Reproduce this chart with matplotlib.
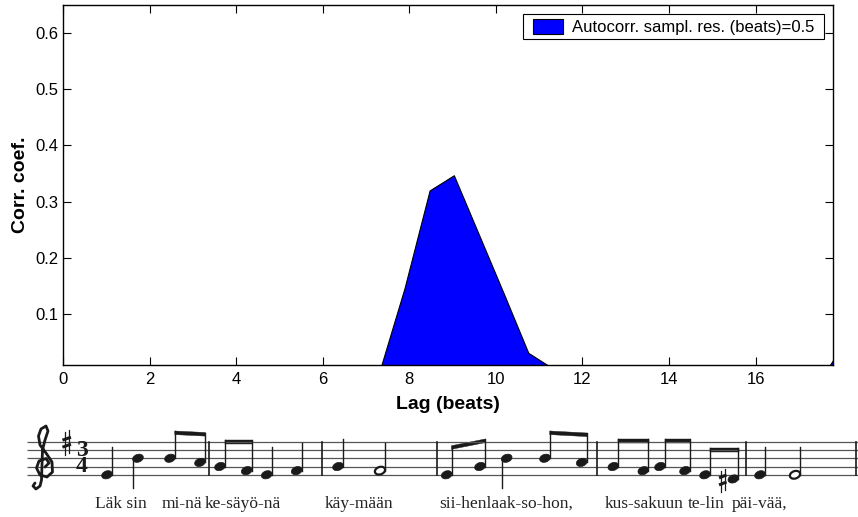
import matplotlib
matplotlib.use('Agg')
import matplotlib.pyplot as plt
from matplotlib.patches import Ellipse, Polygon, Rectangle
from matplotlib import font_manager, ft2font

plt.rcParams['font.family'] = ['Liberation Sans', 'DejaVu Sans']

# ---------------- chart data ----------------
lag = [0.0, 7.32, 7.89, 8.47, 9.03, 9.60, 10.18, 10.75, 11.32, 17.22, 17.79]
corr = [0.0, 0.0, 0.146, 0.320, 0.347, 0.243, 0.137, 0.031, 0.003, -0.05, 0.018]
legend_label = 'Autocorr. sampl. res. (beats)=0.5'
xticks = [0, 2, 4, 6, 8, 10, 12, 14, 16]
yticks = [0.1, 0.2, 0.3, 0.4, 0.5, 0.6]
x_label = 'Lag (beats)'
y_label = 'Corr. coef.'

# ---------------- melody data (staff step 0 = bottom line E4) ----------------
note_x = [107, 138, 170, 200, 220, 246.7, 266.7, 296.7, 338, 380,
          446.7, 480, 506.7, 545, 581.7, 613.3, 643.3, 660, 685, 705, 733.3, 760, 795]
note_step = [0, 4, 4, 3, 2, 1, 0, 1, 2, 1,
             0, 2, 4, 4, 3, 2, 1, 2, 1, 0, -1, 0, 0]
note_dur = ['q', 'q', 'e', 'e', 'e', 'e', 'q', 'q', 'q', 'h',
            'e', 'e', 'q', 'e', 'e', 'e', 'e', 'e', 'e', 'e', 'e', 'q', 'h']
beam_pairs = [(2, 3), (4, 5), (10, 11), (13, 14), (15, 16), (17, 18), (19, 20)]
beam_y = [(431, 432.5), (440, 440), (445.7, 439), (431, 433), (439, 439), (439, 439), (448.3, 448.3)]
sharp_notes = [20]
barlines_x = [209, 321.7, 436.7, 597.3, 745.7, 856]
time_signature = '3\n4'
lyric_words = ['Läk sin', 'mi-nä', 'ke-säyö-nä', 'käy-mään',
               'sii-henlaak-so-hon,', 'kus-sakuun', 'te-lin', 'päi-vää,']
lyric_x = [95, 161.7, 205, 325, 439, 605, 687.5, 731.7]

W, H = 858, 517
fig = plt.figure(figsize=(W / 100, H / 100), dpi=100)

# ---------------- main chart ----------------
L, R, T, B = 63, 833, 5, 365
ax = fig.add_axes([L / W, (H - B) / H, (R - L) / W, (B - T) / H])
ax.fill_between(lag, corr, 0, facecolor='#0000ff', edgecolor='black',
                linewidth=0.8, label=legend_label, zorder=2)
ax.set_xlim(0, 17.79)
ax.set_ylim(0.0093, 0.65)
ax.set_xticks(xticks)
ax.set_xticklabels([str(t) for t in xticks])
ax.set_yticks(yticks)
ax.set_yticklabels([str(t) for t in yticks])
ax.tick_params(direction='in', top=True, right=True, length=5.8, width=0.8,
               labelsize=12)
ax.tick_params(axis='x', pad=5)
ax.tick_params(axis='y', pad=3)
for s in ax.spines.values():
    s.set_linewidth(1.0)
ax.set_xlabel(x_label, fontsize=14, fontweight='bold', labelpad=6.5)
ax.set_ylabel(y_label, fontsize=14, fontweight='bold', labelpad=5)

# legend with MATLAB-like box
def axfx(px):
    return (px - L) / (R - L)
def axfy(py):
    return (B - py) / (B - T)
ax.add_patch(Rectangle((axfx(522.7), axfy(39)), axfx(824.3) - axfx(522.7),
                       axfy(14.3) - axfy(39), transform=ax.transAxes,
                       facecolor='white', edgecolor='black', linewidth=0.8,
                       zorder=4.5, clip_on=False))
leg = ax.legend(loc='center left', bbox_to_anchor=(axfx(532.7), axfy(27)),
                frameon=False, fontsize=12, borderpad=0, borderaxespad=0,
                handlelength=1.8, handleheight=0.96, handletextpad=0.54)
leg.set_zorder(5)

# ---------------- music notation ----------------
MT = 413
mx = fig.add_axes([0, 0, 1, (H - MT) / H])
mx.set_xlim(0, W)
mx.set_ylim(H, MT)
mx.axis('off')

ink = '#1a1a1a'
staff_y0 = 474.8
gap = 8.28
staff_lines = [staff_y0 - i * gap for i in range(5)]
for y in staff_lines:
    mx.plot([26.7, W], [y, y], color='#555555', lw=0.9, solid_capstyle='butt')
for bx in barlines_x:
    mx.plot([bx, bx], [staff_lines[-1], staff_lines[0]], color=ink, lw=1.2)

def step_y(s):
    return staff_y0 - s * gap / 2

beamed = {}
for (a, b), (ya, yb) in zip(beam_pairs, beam_y):
    beamed[a] = ya
    beamed[b] = yb

for i, (x, s, d) in enumerate(zip(note_x, note_step, note_dur)):
    y = step_y(s)
    if d == 'h':
        mx.add_patch(Ellipse((x, y), 10.5, 7.4, angle=-20, facecolor='white',
                             edgecolor=ink, lw=1.6, zorder=3))
    else:
        mx.add_patch(Ellipse((x, y), 11.0, 7.8, angle=-20, facecolor=ink,
                             edgecolor=ink, lw=0.5, zorder=3))
    if i in beamed:
        sx = x + 4.8
        mx.plot([sx, sx], [y, beamed[i]], color=ink, lw=1.0)
    elif s >= 4:
        sx = x - 4.8
        mx.plot([sx, sx], [y, y + 29.5], color=ink, lw=1.0)
    else:
        sx = x + 4.8
        mx.plot([sx, sx], [y, y - 28], color=ink, lw=1.0)

for (a, b), (ya, yb) in zip(beam_pairs, beam_y):
    xa = note_x[a] + 4.8
    xb = note_x[b] + 4.8 + 0.5
    mx.add_patch(Polygon([[xa, ya], [xb, yb], [xb, yb + 3.6], [xa, ya + 3.6]],
                         closed=True, facecolor=ink, edgecolor=ink, lw=0.3))

def draw_sharp(cx, cy, h=24, w=8.5):
    mx.plot([cx - 1.8, cx - 1.8], [cy - h / 2 + 2, cy + h / 2 + 1], color=ink, lw=0.9)
    mx.plot([cx + 1.8, cx + 1.8], [cy - h / 2, cy + h / 2 - 1], color=ink, lw=0.9)
    for dy in (-3.5, 3.5):
        mx.plot([cx - w / 2, cx + w / 2], [cy + dy + 1.5, cy + dy - 1.5],
                color=ink, lw=2.2, solid_capstyle='butt')

for i in sharp_notes:
    draw_sharp(note_x[i] - 10.5, step_y(note_step[i]) + 1, h=22, w=7.5)
# key signature: F sharp on top line
draw_sharp(66.7, staff_lines[4] + 0.5, h=24, w=8.5)

# time signature
mx.text(81.7, step_y(4) + 0.5, time_signature, fontsize=17, fontweight='bold',
        family='Liberation Serif', ha='center', va='center', color=ink,
        linespacing=0.72, multialignment='center')

# treble clef
has_clef = False
try:
    f = ft2font.FT2Font(font_manager.findfont('DejaVu Sans'))
    has_clef = f.get_char_index(0x1D11E) != 0
except Exception:
    has_clef = False
if has_clef:
    mx.text(43, step_y(2), '\U0001D11E', fontsize=40, family='DejaVu Sans',
            ha='center', va='center', color=ink)
else:
    gx = [45, 49, 46, 39, 36.5, 40, 47, 52.5, 52, 46, 40, 38.5, 41, 46, 48, 45, 42.5, 42, 41.5, 40, 36, 33, 35]
    gy = [467, 463, 458.5, 461, 468, 475, 477, 472, 462, 453, 445, 436, 429, 426, 431, 440, 450, 465, 480, 486, 489, 486, 483]
    mx.plot(gx, gy, color=ink, lw=2.0, solid_capstyle='round', solid_joinstyle='round')

for wtxt, wx in zip(lyric_words, lyric_x):
    mx.text(wx, 508, wtxt, fontsize=12.5, family='Liberation Serif', ha='left',
            va='baseline', color='#222222')

fig.savefig('out.png', dpi=100)
